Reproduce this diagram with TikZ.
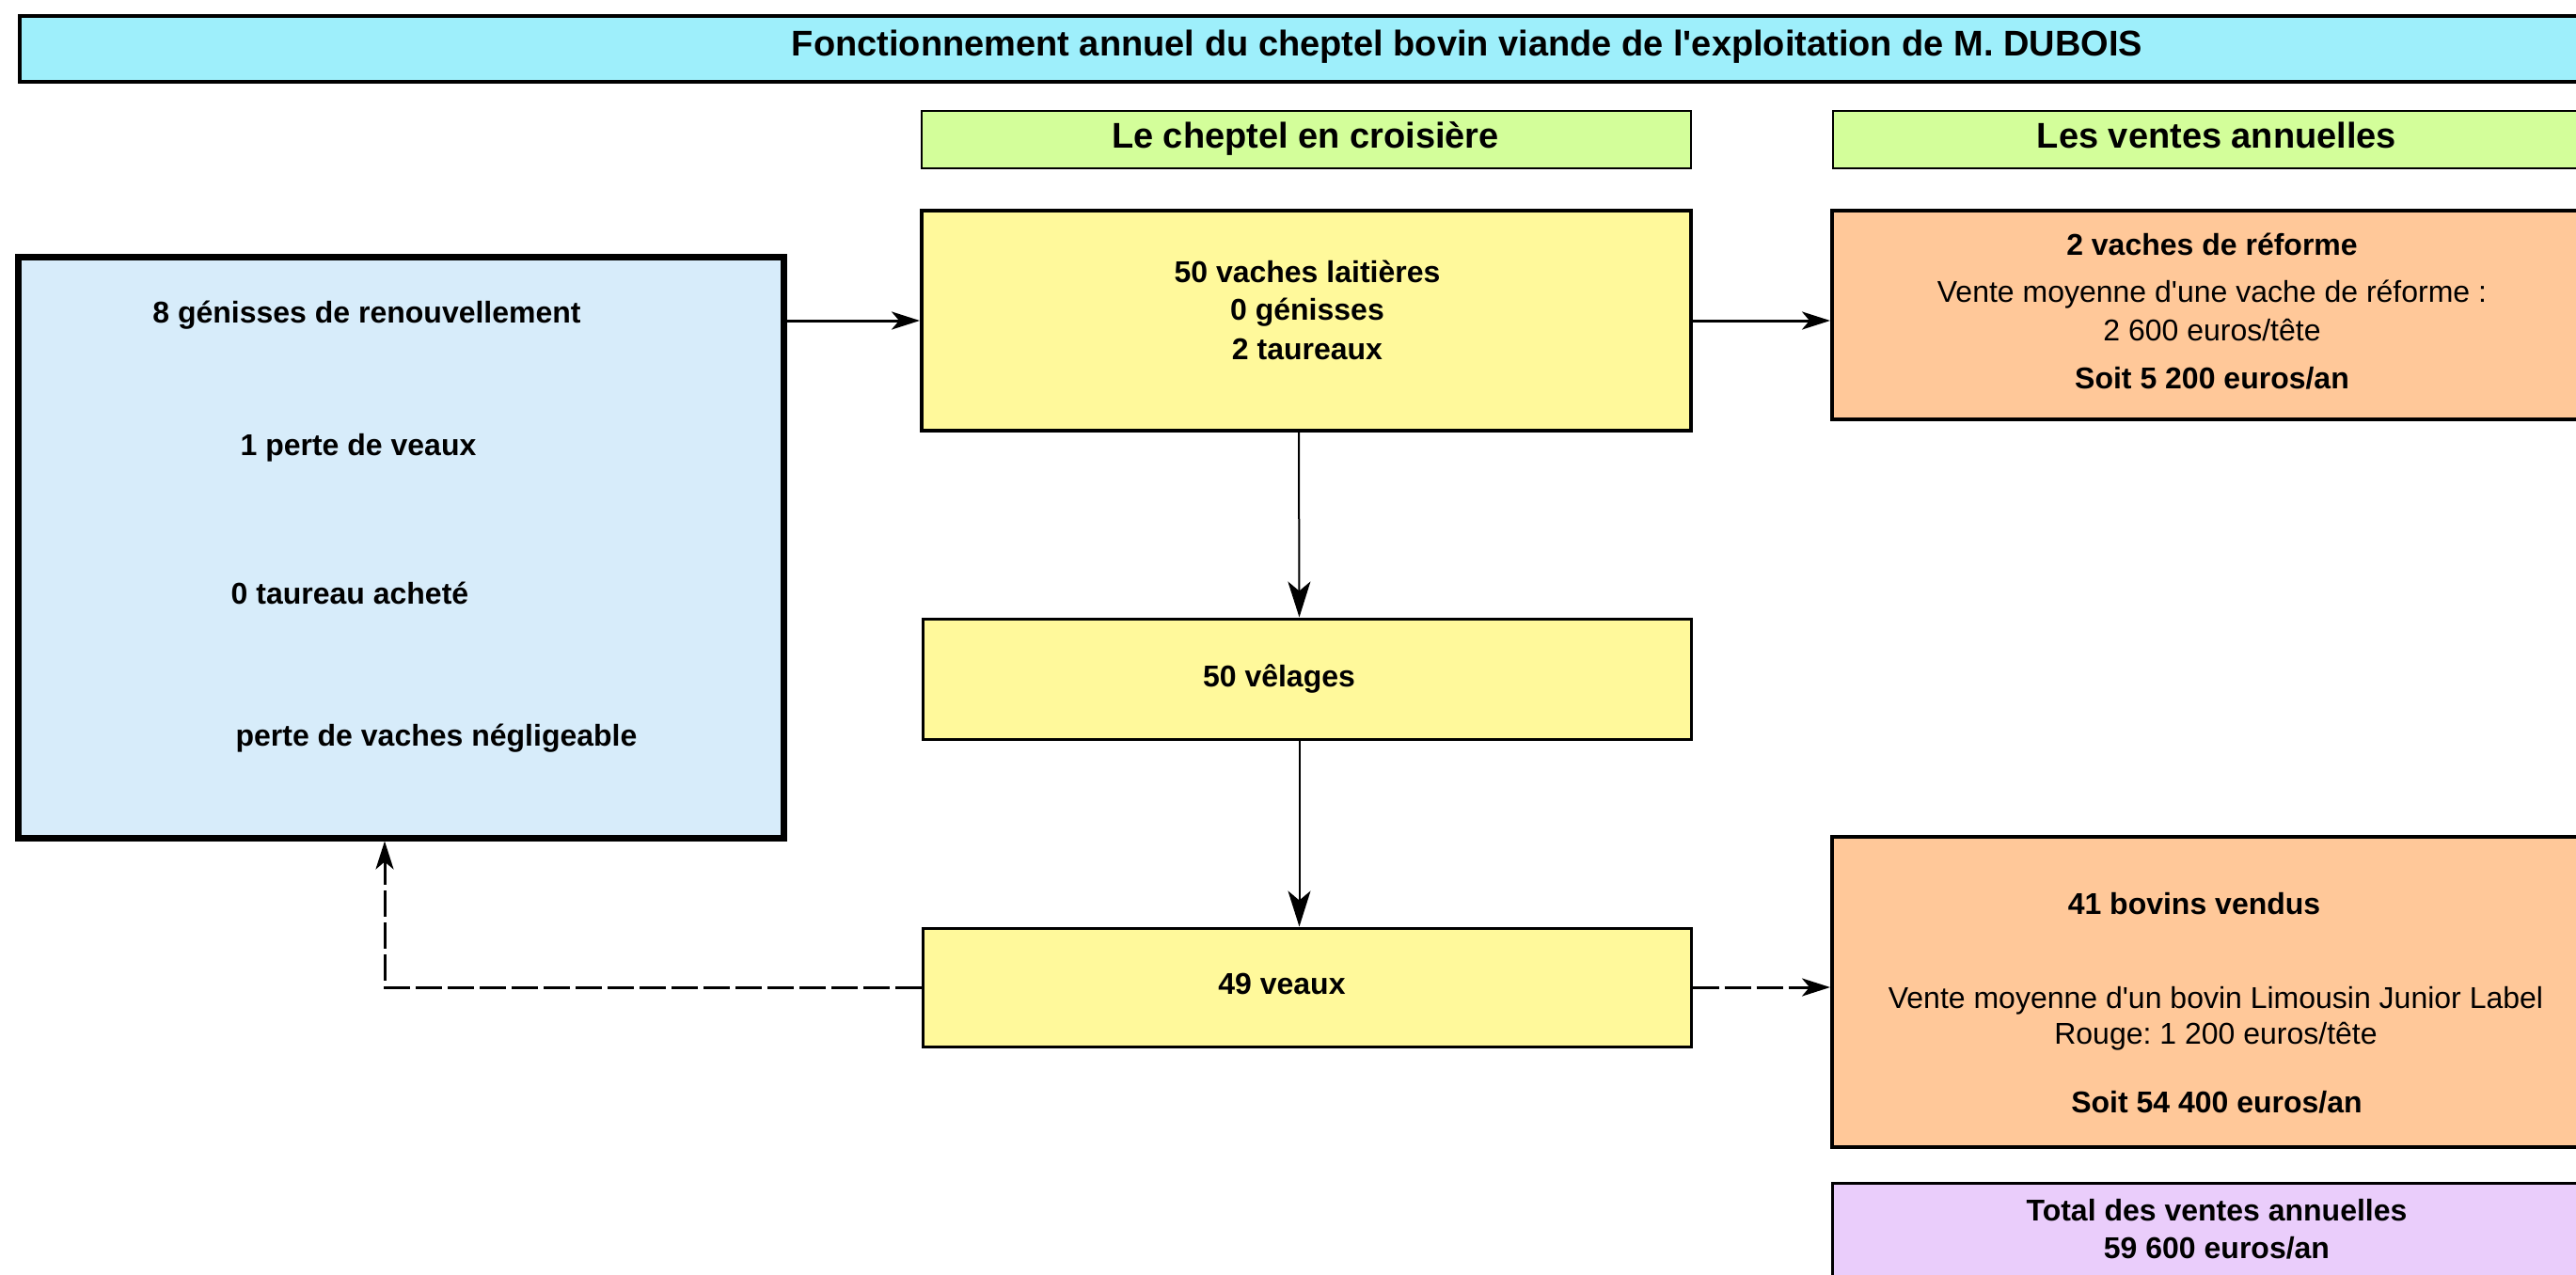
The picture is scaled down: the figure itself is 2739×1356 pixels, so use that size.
\documentclass[tikz,border=0pt]{standalone}
\usepackage{fontspec}
\setmainfont{Liberation Sans}
\usetikzlibrary{arrows.meta}
\frenchspacing
\definecolor{titlecyan}{HTML}{9EEFFB}
\definecolor{headgreen}{HTML}{D3FE9A}
\definecolor{herdyellow}{HTML}{FFF99B}
\definecolor{saleorange}{HTML}{FFC899}
\definecolor{inputblue}{HTML}{D7ECFA}
\definecolor{totalpurple}{HTML}{EACDFB}
\newcommand{\apo}{\textquotesingle}
\begin{document}
\begin{tikzpicture}[x=1pt,y=-1pt,
  box/.style={draw=black, rectangle, inner sep=0pt},
  bold/.style={anchor=base, inner sep=0pt, font=\fontsize{32}{38}\selectfont\bfseries},
  plain/.style={anchor=base, inner sep=0pt, font=\fontsize{32}{38}\selectfont},
  big/.style={anchor=base, inner sep=0pt, font=\fontsize{38}{44}\selectfont\bfseries},
  flow/.style={line width=3pt, -{Stealth[length=30pt, width=19pt, inset=8pt]}},
  down/.style={line width=2pt, -{Stealth[length=38pt, width=24pt, inset=10pt]}},
  dashflow/.style={line width=3pt, dash pattern=on 28pt off 6pt,
    -{Stealth[length=30pt, width=19pt, inset=8pt]}}]
\useasboundingbox (0,0) rectangle (2739,1356);
\clip (0,0) rectangle (2739,1356);
\fill[white] (0,0) rectangle (2739,1356);

% title band
\node[box, line width=4pt, fill=titlecyan, minimum width=3079pt, minimum height=70pt] (title) at (1560,52) {};
\node[big] (titletext) at (1560,60) {Fonctionnement annuel du cheptel bovin viande de l\apo exploitation de M. DUBOIS};

% column headers
\node[box, line width=2pt, fill=headgreen, minimum width=818pt, minimum height=61pt] (head1) at (1389,148.5) {};
\node[big] (head1text) at (1388,158) {Le cheptel en croisière};
\node[box, line width=2pt, fill=headgreen, minimum width=811pt, minimum height=61pt] (head2) at (2354.5,148.5) {};
\node[big] (head2text) at (2357,158) {Les ventes annuelles};

% renewal and losses
\node[box, line width=7pt, fill=inputblue, minimum width=814pt, minimum height=617pt] (inputs) at (426,582.5) {};
\node[bold] (inA) at (390,343) {8 génisses de renouvellement};
\node[bold] (inB) at (381,484) {1 perte de veaux};
\node[bold] (inC) at (372,642) {0 taureau acheté};
\node[bold] (inD) at (464,793) {perte de vaches négligeable};

% herd
\node[box, line width=4pt, fill=herdyellow, minimum width=818pt, minimum height=234pt] (herd) at (1389,341) {};
\node[bold] (herdA) at (1390,301) {50 vaches laitières};
\node[bold] (herdB) at (1390,341) {0 génisses};
\node[bold] (herdC) at (1390,382) {2 taureaux};

\node[box, line width=3pt, fill=herdyellow, minimum width=817pt, minimum height=128pt] (calving) at (1389.5,722) {};
\node[bold] (calvingtext) at (1360,730) {50 vêlages};

\node[box, line width=3pt, fill=herdyellow, minimum width=817pt, minimum height=126pt] (calves) at (1389.5,1050) {};
\node[bold] (calvestext) at (1363,1057) {49 veaux};

% sales
\node[box, line width=4pt, fill=saleorange, minimum width=812pt, minimum height=222pt] (cull) at (2354,335) {};
\node[bold] (cullA) at (2352,272) {2 vaches de réforme};
\node[plain] (cullB) at (2352,322) {Vente moyenne d\apo une vache de réforme :};
\node[plain] (cullC) at (2352,362) {2 600 euros/tête};
\node[bold] (cullD) at (2352,413) {Soit 5 200 euros/an};

\node[box, line width=4pt, fill=saleorange, minimum width=812pt, minimum height=330pt] (sold) at (2354,1055) {};
\node[bold] (soldA) at (2333,972) {41 bovins vendus};
\node[plain] (soldB) at (2356,1072) {Vente moyenne d\apo un bovin Limousin Junior Label};
\node[plain] (soldC) at (2356,1110) {Rouge: 1 200 euros/tête};
\node[bold] (soldD) at (2357,1183) {Soit 54 400 euros/an};

\node[box, line width=3pt, fill=totalpurple, minimum width=812pt, minimum height=142pt] (total) at (2354,1329) {};
\node[bold] (totalA) at (2357,1298) {Total des ventes annuelles};
\node[bold] (totalB) at (2357,1338) {59 600 euros/an};

% connectors
\draw[flow] (inputs.east |- herd.west) -- (herd.west);
\draw[flow] (herd.east) -- (cull.west |- herd.east);
\draw[down] ([xshift=-8pt]herd.south) -- ([xshift=-8pt]calving.north);
\draw[down] ([xshift=-8pt]calving.south) -- ([xshift=-8pt]calves.north);
\draw[dashflow] (calves.east) -- (sold.west |- calves.east);
\coordinate (back) at ([xshift=-17pt]inputs.south);
\draw[dashflow] (calves.west) -| (back);
\end{tikzpicture}
\end{document}
